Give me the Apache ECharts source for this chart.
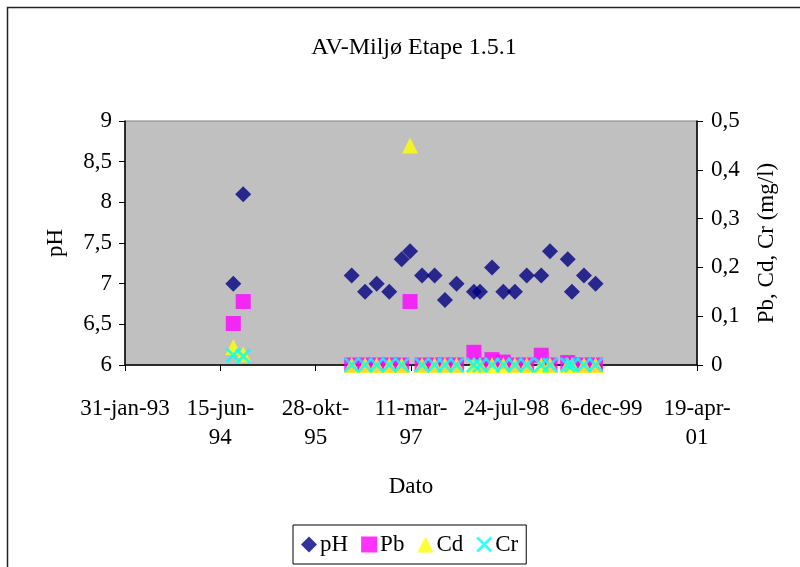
<!DOCTYPE html>
<html>
<head>
<meta charset="utf-8">
<script src="https://cdn.jsdelivr.net/npm/echarts@6/dist/echarts.min.js"></script>
<style>html,body{margin:0;padding:0;background:#fff}#c{width:800px;height:567px}</style>
</head>
<body>
<div id="c"></div>
<script>
// Sample dates
const dates = ['1994-08-22','1994-10-13','1996-05-04','1996-07-13','1996-09-12','1996-11-17',
  '1997-01-21','1997-03-06','1997-05-08','1997-07-13','1997-09-05','1997-11-05',
  '1998-02-04','1998-03-08','1998-05-10','1998-07-08','1998-09-07','1998-11-08',
  '1999-01-23','1999-03-10','1999-06-11','1999-07-03','1999-09-04','1999-11-04'];
const pH = [7.0, 8.1, 7.1, 6.9, 7.0, 6.9, 7.3, 7.4, 7.1, 7.1, 6.8, 7.0,
  6.9, 6.9, 7.2, 6.9, 6.9, 7.1, 7.1, 7.4, 7.3, 6.9, 7.1, 7.0];
const Pb = [0.085, 0.13, 0, 0, 0, 0, 0, 0.13, 0, 0, 0, 0,
  0.026, 0, 0.011, 0.006, 0, 0, 0.02, 0, 0.005, 0, 0, 0];
const Cd = [0.037, 0.022, 0, 0, 0, 0, 0, 0.45, 0, 0, 0, 0,
  0, 0, 0, 0, 0, 0, 0, 0, 0, 0, 0, 0];
const Cr = [0.02, 0.018, 0, 0, 0, 0, 0, null, 0, 0, 0, 0,
  0, 0, 0, 0, 0, 0, 0, 0, 0, 0, 0, 0];
const xTickLabels = ['31-jan-93','15-jun-\n94','28-okt-\n95','11-mar-\n97','24-jul-98','6-dec-99','19-apr-\n01'];
const leftTicks = ['6','6,5','7','7,5','8','8,5','9'];
const rightTicks = ['0','0,1','0,2','0,3','0,4','0,5'];

// Excel-style day serial
function serial(s){const p=s.split('-').map(Number);return Math.round((Date.UTC(p[0],p[1]-1,p[2])-Date.UTC(1899,11,30))/86400000);}
const X_MIN = 34000, X_STEP = 500, X_MAX = 37000;
function pairs(vals){return dates.map((d,i)=>[serial(d), vals[i]]).filter(p=>p[1]!==null);}

const FONT = 'Liberation Serif';
const FS = 23;
const crossPath = 'path://M0,1.2L1.2,0L5,3.8L8.8,0L10,1.2L6.2,5L10,8.8L8.8,10L5,6.2L1.2,10L0,8.8L3.8,5Z';

const chart = echarts.init(document.getElementById('c'), null, {renderer:'canvas'});
chart.setOption({
  animation:false,
  backgroundColor:'#fff',
  textStyle:{fontFamily:FONT, color:'#000'},
  graphic:[{type:'rect', shape:{x:7.5,y:7.5,width:900,height:900}, style:{fill:'none', stroke:'#222', lineWidth:1.5}, z:-1}],
  title:{text:'AV-Miljø Etape 1.5.1', left:409, top:31, textAlign:'center',
    textStyle:{fontFamily:FONT, fontSize:24, fontWeight:'normal', color:'#000'}},
  grid:{left:125, top:121, width:572, height:244, show:true, backgroundColor:'#C0C0C0', borderColor:'#808080', borderWidth:1},
  legend:{left:293, top:525, padding:[8,8], itemGap:13, itemWidth:16, itemHeight:16,
    borderColor:'#000', borderWidth:1, textStyle:{fontFamily:FONT, fontSize:FS, color:'#000', padding:[0,0,0,-2]},
    data:['pH','Pb','Cd','Cr']},
  xAxis:{type:'value', min:X_MIN, max:X_MAX, interval:X_STEP, name:'Dato', nameLocation:'middle', nameGap:110,
    nameTextStyle:{fontFamily:FONT, fontSize:FS, color:'#000'},
    axisLine:{lineStyle:{color:'#000', width:1.5}}, axisTick:{length:6, lineStyle:{color:'#000'}},
    splitLine:{show:false},
    axisLabel:{fontFamily:FONT, fontSize:FS, color:'#000', margin:29, lineHeight:29, verticalAlign:'top',
      formatter:v=>xTickLabels[Math.round((v-X_MIN)/X_STEP)]||''}},
  yAxis:[
    {type:'value', min:6, max:9, interval:0.5, position:'left', name:'pH', nameLocation:'middle', nameGap:58, nameRotate:90,
      nameTextStyle:{fontFamily:FONT, fontSize:FS, color:'#000'},
      axisLine:{show:true, lineStyle:{color:'#000', width:1.5}}, axisTick:{show:true, length:6, lineStyle:{color:'#000'}},
      splitLine:{show:false},
      axisLabel:{fontFamily:FONT, fontSize:FS, color:'#000', margin:13, formatter:v=>leftTicks[Math.round((v-6)/0.5)]}},
    {type:'value', min:0, max:0.5, interval:0.1, position:'right', name:'Pb, Cd, Cr (mg/l)', nameLocation:'middle', nameGap:58, nameRotate:90,
      nameTextStyle:{fontFamily:FONT, fontSize:FS, color:'#000'},
      axisLine:{show:true, lineStyle:{color:'#000', width:1.5}}, axisTick:{show:true, length:6, lineStyle:{color:'#000'}},
      splitLine:{show:false},
      axisLabel:{fontFamily:FONT, fontSize:FS, color:'#000', margin:14, formatter:v=>rightTicks[Math.round(v/0.1)]}}
  ],
  series:[
    {name:'pH', type:'scatter', yAxisIndex:0, symbol:'diamond', symbolSize:16, clip:false, itemStyle:{color:'#000080'}, data:pairs(pH)},
    {name:'Pb', type:'scatter', yAxisIndex:1, symbol:'rect', symbolSize:15, clip:false, itemStyle:{color:'#FF00FF'}, data:pairs(Pb)},
    {name:'Cd', type:'scatter', yAxisIndex:1, symbol:'triangle', symbolSize:16, clip:false, itemStyle:{color:'#FFFF00'}, data:pairs(Cd)},
    {name:'Cr', type:'scatter', yAxisIndex:1, symbol:crossPath, symbolSize:16, clip:false, itemStyle:{color:'#00FFFF'}, data:pairs(Cr)}
  ]
});
</script>
</body>
</html>
